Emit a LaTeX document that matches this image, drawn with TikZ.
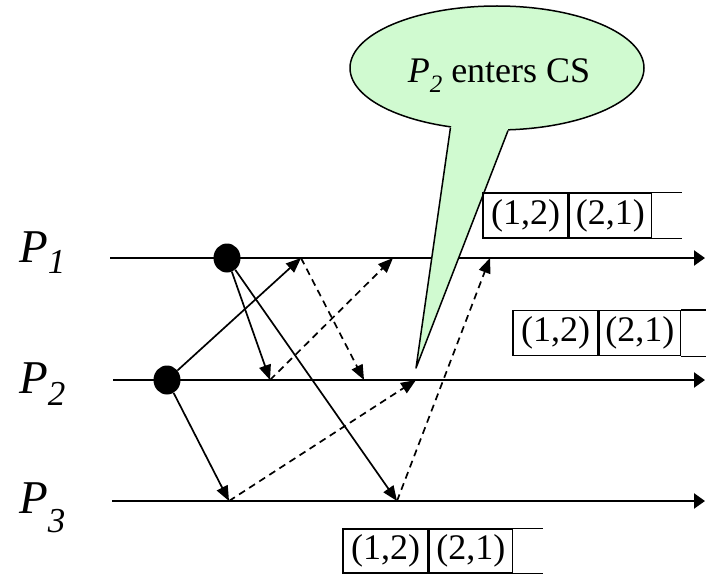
\documentclass[tikz,border=0pt]{standalone}
\usepackage{fontspec}
\setmainfont{Liberation Serif}
\usetikzlibrary{arrows.meta,shapes.geometric,calc}
\definecolor{callfill}{RGB}{208,250,208}
\begin{document}
\begin{tikzpicture}[x=1pt,y=-1pt,
  proc/.style={line width=2.2pt,-{Triangle[length=11pt,width=15pt]}},
  msg/.style={line width=1.7pt,-{Triangle[length=15pt,width=12pt]}},
  dmsg/.style={msg,dash pattern=on 7pt off 5pt},
  dot/.style={ellipse,fill=black,inner sep=0pt,minimum width=27pt,minimum height=29pt},
  cell/.style={draw,line width=1.3pt,inner sep=0pt,minimum height=45pt,font=\fontsize{36}{36}\selectfont},
  qline/.style={line width=1.3pt},
  plab/.style={anchor=base west,inner sep=0pt,font=\fontsize{47}{47}\selectfont\itshape},
  callout/.style={draw,line width=1.5pt,fill=callfill,ellipse,inner sep=0pt,minimum width=294pt,minimum height=124pt},
  ]
\path[use as bounding box] (0,0) rectangle (706,575);

% process lines
\coordinate (l1s) at (110,258); \coordinate (l1e) at (705,258);
\coordinate (l2s) at (113,380); \coordinate (l2e) at (705,380);
\coordinate (l3s) at (112,501); \coordinate (l3e) at (705,501);
\draw[proc] (l1s) -- (l1e);
\draw[proc] (l2s) -- (l2e);
\draw[proc] (l3s) -- (l3e);

% events
\node[dot] (d1) at (227,258) {};
\node[dot] (d2) at (167,380) {};

% message end points
\coordinate (m1) at (301,258);
\coordinate (m2) at (270,380);
\coordinate (m3) at (397,501);
\coordinate (m4) at (229,501);
\coordinate (n2) at (364,380);
\coordinate (n3) at (393,258);
\coordinate (n4) at (490,258);
\coordinate (n5) at (416,380);

% requests
\draw[msg] (d2) -- (m1);
\draw[msg] (d1) -- (m2);
\draw[msg] (d1) -- (m3);
\draw[msg] (d2) -- (m4);
% replies
\draw[dmsg] (m1) -- (n2);
\draw[dmsg] (m2) -- (n3);
\draw[dmsg] (m3) -- (n4);
\draw[dmsg] (m4) -- (n5);

% callout
\node[callout] (call) at (497,68) {};
\coordinate (tip) at (416,368);
\fill[callfill] (call.232.7) -- (tip) -- (call.280) -- (call.center) -- cycle;
\draw[line width=1.5pt,line join=round] (call.232.7) -- (tip) -- (call.280);
\node[anchor=base,inner sep=0pt,font=\fontsize{36}{36}\selectfont] (callt) at (499,83)
  {\textit{P}\raisebox{-10pt}{\fontsize{25}{25}\selectfont\textit{2}} enters CS};

% queues
\node[cell,minimum width=85pt] (q1a) at (525.5,215.5) {(1,2)};
\node[cell,minimum width=82pt,anchor=west] (q1b) at (q1a.east) {(2,1)};
\draw[qline] (q1b.north east) -- ++(30,0) (q1b.south east) -- ++(30,0);

\node[cell,minimum width=85pt] (q2a) at (555.5,333) {(1,2)};
\node[cell,minimum width=81pt,anchor=west] (q2b) at (q2a.east) {(2,1)};
\draw[qline] (q2b.north east) -- ++(28,0) (q2b.south east) -- ++(28,0);

\node[cell,minimum width=85pt,minimum height=44pt] (q3a) at (385.5,551) {(1,2)};
\node[cell,minimum width=83pt,minimum height=44pt,anchor=west] (q3b) at (q3a.east) {(2,1)};
\draw[qline] (q3b.north east) -- ++(30,0) (q3b.south east) -- ++(30,0);

% labels
\node[plab] (p1) at (19,262) {P\raisebox{-11pt}{\fontsize{35}{35}\selectfont 1}};
\node[plab] (p2) at (19,393) {P\raisebox{-12pt}{\fontsize{35}{35}\selectfont 2}};
\node[plab] (p3) at (19,513) {P\raisebox{-19pt}{\fontsize{35}{35}\selectfont 3}};
\end{tikzpicture}
\end{document}
